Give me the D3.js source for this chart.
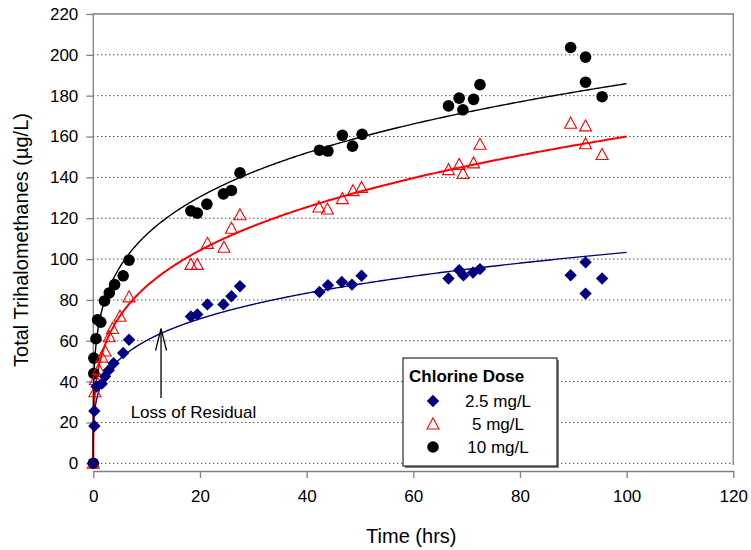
<!DOCTYPE html>
<html>
<head>
<meta charset="utf-8">
<script src="https://cdn.jsdelivr.net/npm/d3@7"></script>
<style>
  body { margin: 0; background: #fff; }
  svg { font-family: "Liberation Sans", Arial, sans-serif; }
</style>
</head>
<body>
<svg class="chart-svg" width="751" height="550"></svg>
<script>
// 2.5 mg/L
const hours25 = [0, 0.2, 0.2, 0.6, 1.6, 2.2, 2.9, 3.8, 5.6, 6.7, 18.3, 19.5, 21.4, 24.4, 25.9, 27.5, 42.4, 44.0, 46.6, 48.5, 50.3, 66.6, 68.6, 69.4, 71.2, 72.5, 89.5, 92.3, 92.3, 95.4];
const thm25 = [0, 18.3, 25.6, 37.6, 39, 42.5, 45.6, 49, 54, 60.5, 71.9, 72.9, 77.8, 77.8, 81.8, 86.7, 83.9, 87.2, 88.8, 87.5, 91.8, 90.5, 94.5, 92, 93.4, 95.1, 92.1, 98.4, 83.1, 90.5];

// 5 mg/L
const hours5 = [0, 0.3, 0.4, 1.0, 1.6, 2.2, 3.0, 3.6, 5.0, 6.7, 18.3, 19.5, 21.4, 24.5, 25.9, 27.5, 42.3, 43.9, 46.7, 48.7, 50.3, 66.6, 68.6, 69.3, 71.3, 72.5, 89.5, 92.3, 92.3, 95.4];
const thm5 = [0, 35, 41, 46, 52, 55, 62, 66, 72, 81.5, 97.4, 97.4, 107.7, 105.8, 115.1, 121.7, 125.5, 124.5, 129.6, 133.5, 135.1, 143.8, 146.3, 141.9, 147.1, 156.2, 166.5, 165.2, 156.5, 151.2];

// 10 mg/L
const hours10 = [0, 0.1, 0.1, 0.5, 0.8, 1.4, 2.1, 3.0, 4.0, 5.6, 6.7, 18.3, 19.5, 21.3, 24.4, 25.9, 27.5, 42.4, 44.0, 46.7, 48.6, 50.4, 66.6, 68.6, 69.3, 71.3, 72.5, 89.5, 92.3, 92.3, 95.4];
const thm10 = [0, 44, 51.5, 61, 70.3, 69.1, 79.5, 83.4, 87.5, 91.8, 99.5, 123.6, 122.5, 126.9, 131.9, 133.6, 142.2, 153.3, 152.9, 160.6, 155.3, 161.1, 175, 178.8, 173.1, 178.2, 185.4, 203.6, 198.9, 186.6, 179.5];

// power trendlines y = a * t^b
const doseLabels = ["2.5 mg/L", "5 mg/L", "10 mg/L"];
const fitA = [35.0, 47.0, 67.5];
const fitB = [0.235, 0.266, 0.22];
const fitEnd = 100;

const xTicks = [0, 20, 40, 60, 80, 100, 120];
const yTicks = [0, 20, 40, 60, 80, 100, 120, 140, 160, 180, 200, 220];

const svg = d3.select('.chart-svg');
const plotLeft = 93.3, plotRight = 733.3, plotTop = 14, plotBottom = 465, axisY = 471;

const xScale = d3.scaleLinear().domain([0, 120]).range([plotLeft, plotRight]);
const yScale = d3.scaleLinear().domain([0, 220]).range([463.3, plotTop]);

const series = [
  { label: doseLabels[0], t: hours25, v: thm25, shape: 'diamond', color: '#000080' },
  { label: doseLabels[1], t: hours5, v: thm5, shape: 'triangle', color: '#ff0000' },
  { label: doseLabels[2], t: hours10, v: thm10, shape: 'circle', color: '#000000' },
];

// dotted gridlines
svg.append('g')
  .selectAll('line')
  .data(yTicks.filter(d => d < 220))
  .join('line')
  .attr('x1', plotLeft).attr('x2', plotRight)
  .attr('y1', d => yScale(d)).attr('y2', d => yScale(d))
  .attr('stroke', '#000')
  .attr('stroke-width', 1)
  .attr('stroke-dasharray', '1,3');

// plot border (left + top + right)
svg.append('path')
  .attr('d', `M${plotLeft},${plotBottom}V${plotTop}H${plotRight}V${plotBottom}`)
  .attr('fill', 'none')
  .attr('stroke', '#808080')
  .attr('stroke-width', 1.3);

// y axis
const yAxis = d3.axisLeft(yScale).tickValues(yTicks).tickSize(7).tickPadding(8);
const gy = svg.append('g').attr('transform', `translate(${plotLeft},0)`).call(yAxis);
gy.select('.domain').remove();
gy.selectAll('.tick line').attr('stroke', '#808080').attr('stroke-width', 1.3);
gy.selectAll('.tick text').attr('font-size', 17).attr('fill', '#000')
  .attr('font-family', '"Liberation Sans", Arial, sans-serif');

// x axis, offset a bit below the y=0 line
const xAxis = d3.axisBottom(xScale).tickValues(xTicks).tickSize(7).tickPadding(12).tickSizeOuter(0);
const gx = svg.append('g').attr('transform', `translate(0,${axisY})`).call(xAxis);
gx.select('.domain').attr('stroke', '#808080').attr('stroke-width', 1.3);
gx.selectAll('.tick line').attr('stroke', '#808080').attr('stroke-width', 1.3);
gx.selectAll('.tick text').attr('font-size', 17).attr('fill', '#000')
  .attr('font-family', '"Liberation Sans", Arial, sans-serif');

// axis titles
svg.append('text')
  .attr('x', (plotLeft + plotRight) / 2 - 2)
  .attr('y', 543)
  .attr('text-anchor', 'middle')
  .attr('font-size', 20)
  .text('Time (hrs)');

svg.append('text')
  .attr('transform', 'translate(28,240) rotate(-90)')
  .attr('text-anchor', 'middle')
  .attr('font-size', 20)
  .text('Total Trihalomethanes (µg/L)');

// trend curves
const line = d3.line().x(d => xScale(d[0])).y(d => yScale(d[1]));
series.forEach((s, i) => {
  const pts = d3.range(0, 401).map(k => {
    const t = fitEnd * Math.pow(k / 400, 2);
    return [t, fitA[i] * Math.pow(t, fitB[i])];
  });
  svg.append('path')
    .datum(pts)
    .attr('d', line)
    .attr('fill', 'none')
    .attr('stroke', s.color)
    .attr('stroke-width', i === 1 ? 2 : 1.4);
});

function drawMarker(g, shape, color, x, y) {
  if (shape === 'diamond') {
    g.append('path')
      .attr('d', `M${x},${y - 6.2}L${x + 6.2},${y}L${x},${y + 6.2}L${x - 6.2},${y}Z`)
      .attr('fill', color);
  } else if (shape === 'triangle') {
    g.append('path')
      .attr('d', `M${x},${y - 6}L${x + 6},${y + 5}L${x - 6},${y + 5}Z`)
      .attr('fill', 'none')
      .attr('stroke', color)
      .attr('stroke-width', 1.1);
  } else {
    g.append('circle')
      .attr('cx', x).attr('cy', y).attr('r', 5.8)
      .attr('fill', color);
  }
}

// markers, 2.5 mg/L drawn last so it sits on top
[series[2], series[1], series[0]].forEach(s => {
  const g = svg.append('g');
  s.t.forEach((t, j) => drawMarker(g, s.shape, s.color, xScale(t), yScale(s.v[j])));
});

// annotation
const arrowX = xScale(12.7);
const tipY = yScale(65.9);
svg.append('line')
  .attr('x1', arrowX).attr('x2', arrowX)
  .attr('y1', yScale(32)).attr('y2', tipY)
  .attr('stroke', '#000').attr('stroke-width', 1.3);
svg.append('path')
  .attr('d', `M${arrowX - 5.5},${tipY + 22}L${arrowX},${tipY}L${arrowX + 5.5},${tipY + 22}`)
  .attr('fill', 'none').attr('stroke', '#000').attr('stroke-width', 1.3);
svg.append('text')
  .attr('x', xScale(7.0))
  .attr('y', yScale(22))
  .attr('font-size', 17)
  .text('Loss of Residual');

// legend
const lg = svg.append('g').attr('transform', 'translate(403,358)');
lg.append('rect').attr('x', 2).attr('y', 2).attr('width', 154).attr('height', 108).attr('fill', '#808080');
lg.append('rect').attr('width', 154).attr('height', 108).attr('fill', '#fff')
  .attr('stroke', '#000').attr('stroke-width', 1);
lg.append('text').attr('x', 6).attr('y', 24).attr('font-size', 17).attr('font-weight', 'bold')
  .text('Chlorine Dose');
series.forEach((s, i) => {
  const cy = 43 + i * 23;
  drawMarker(lg, s.shape, s.color, 30, cy);
  lg.append('text').attr('x', 95).attr('y', cy + 6)
    .attr('text-anchor', 'middle').attr('font-size', 17).text(s.label);
});
</script>
</body>
</html>
